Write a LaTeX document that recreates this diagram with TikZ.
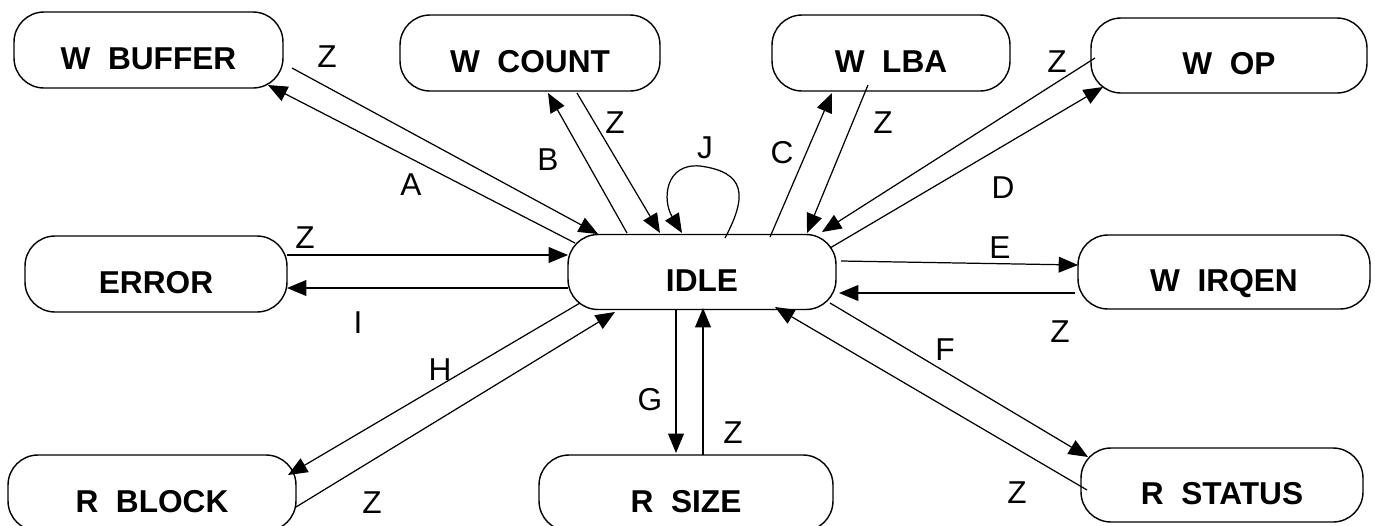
\documentclass[tikz,border=0pt]{standalone}
\usepackage{fontspec}
\setmainfont{Liberation Sans}
\usetikzlibrary{arrows.meta,calc}
\begin{document}
\begin{tikzpicture}[x=0.02cm,y=-0.02cm]
\tikzstyle{st}=[draw,line width=0.8pt,rounded corners=0.6cm,minimum height=1.52cm,inner sep=0pt,font=\bfseries\fontsize{18}{20}\selectfont,text height=22pt,text depth=0pt]
\tikzstyle{lb}=[font=\fontsize{18}{20}\selectfont,inner sep=1pt]
\tikzstyle{ar}=[line width=0.7pt,-{Triangle[length=11pt,width=9pt]}]
\useasboundingbox (0,0) rectangle (1375,525);
\node [st,minimum width=5.38cm] (wbuf) at (148.5,50) {W\ \ BUFFER};
\node [st,minimum width=5.2cm] (wcnt) at (530,53) {W\ \ COUNT};
\node [st,minimum width=4.76cm] (wlba) at (891,53) {W\ \ LBA};
\node [st,minimum width=5.52cm,minimum height=1.5cm] (wop) at (1229,55.5) {W\ \ OP};
\node [st,minimum width=5.24cm] (err) at (156,274) {ERROR};
\node [st,minimum width=5.36cm,minimum height=1.5cm] (idle) at (702,272) {IDLE};
\node [st,minimum width=5.84cm,minimum height=1.48cm] (wirq) at (1224,272) {W\ \ IRQEN};
\node [st,minimum width=5.76cm] (rblk) at (152,493) {R\ \ BLOCK};
\node [st,minimum width=5.88cm] (rsize) at (686,493) {R\ \ SIZE};
\node [st,minimum width=5.64cm,minimum height=1.48cm] (rstat) at (1222,485) {R\ \ STATUS};

\draw [ar] ($(idle)+(-127,-29)$) -- ($(wbuf)+(119.5,35)$);
\draw [ar] ($(wbuf)+(143.5,18)$) -- ($(idle)+(-104,-38)$);
\draw [ar] ($(idle)+(-75,-39)$) -- ($(wcnt)+(18,40)$);
\draw [ar] ($(wcnt)+(47,40)$) -- ($(idle)+(-42,-39)$);
\draw [ar] ($(idle)+(23,-34)$) .. controls +(23,-43) and +(45,6) .. ($(idle)+(-2,-106)$)
  .. controls +(-35,-3) and +(-20,-33) .. ($(idle)+(-20,-39)$);
\draw [ar] ($(idle)+(68,-35)$) -- ($(wlba)+(-59,40)$);
\draw [ar] ($(wlba)+(-23,32)$) -- ($(idle)+(105,-39)$);
\draw [ar] ($(idle)+(128,-24)$) -- ($(wop)+(-126,31.5)$);
\draw [ar] ($(wop)+(-134,2.5)$) -- ($(idle)+(120,-40)$);
\draw [ar] ($(idle)+(139,-11)$) -- ($(wirq)+(-146,-7)$);
\draw [ar] ($(wirq)+(-149,21)$) -- ($(idle)+(137,21)$);
\draw [ar] ($(idle)+(128,31)$) -- ($(rstat)+(-134,-28)$);
\draw [ar] ($(rstat)+(-135,5)$) -- ($(idle)+(73,35)$);
\draw [ar] ($(idle)+(-26,37)$) -- ($(rsize)+(-10,-40)$);
\draw [ar] ($(rsize)+(17,-38)$) -- ($(idle)+(1,36)$);
\draw [ar] ($(idle)+(-122,31)$) -- ($(rblk)+(136,-18)$);
\draw [ar] ($(rblk)+(144,14)$) -- ($(idle)+(-87,40)$);
\draw [ar] ($(err)+(131,-19)$) -- ($(idle)+(-134,-17)$);
\draw [ar] ($(idle)+(-134,16)$) -- ($(err)+(131,14)$);

\node [lb] (lzbuf) at (327,57) {Z};
\node [lb] (la) at (411,185) {A};
\node [lb] (lzcnt) at (615,123) {Z};
\node [lb] (lb) at (548,160) {B};
\node [lb] (lj) at (705,148) {J};
\node [lb] (lc) at (782,153) {C};
\node [lb] (lzlba) at (883,123) {Z};
\node [lb] (lzop) at (1057,62) {Z};
\node [lb] (ld) at (1003,188) {D};
\node [lb] (le) at (1000,248) {E};
\node [lb] (lzirq) at (1060,332) {Z};
\node [lb] (lf) at (945,350) {F};
\node [lb] (lzstat) at (1017,493) {Z};
\node [lb] (lzsize) at (733,433) {Z};
\node [lb] (lg) at (650,400) {G};
\node [lb] (lh) at (440,370) {H};
\node [lb] (lzblk) at (372,503) {Z};
\node [lb] (li) at (358,323) {I};
\node [lb] (lzerr) at (305,238) {Z};
\end{tikzpicture}
\end{document}
